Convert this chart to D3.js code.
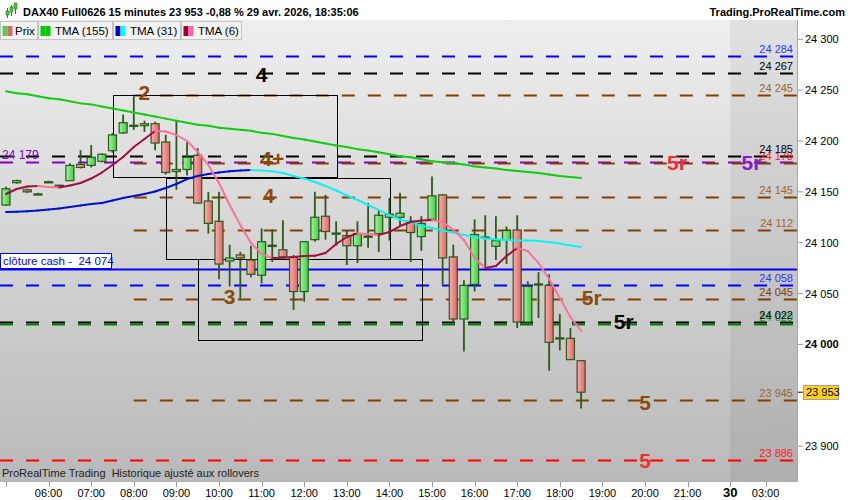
<!DOCTYPE html>
<html>
<head>
<meta charset="utf-8">
<script src="https://cdn.jsdelivr.net/npm/d3@7"></script>
<style>
  body { margin: 0; background: #fff; }
  svg { display: block; font-family: "Liberation Sans", Arial, sans-serif; }
</style>
</head>
<body>
<svg width="850" height="500"></svg>
<script>
// 15 minute bars, 29 avr. 2026
var times = ["05:00","05:15","05:30","05:45","06:00","06:15","06:30","06:45","07:00","07:15",
  "07:30","07:45","08:00","08:15","08:30","08:45","09:00","09:15","09:30","09:45",
  "10:00","10:15","10:30","10:45","11:00","11:15","11:30","11:45","12:00","12:15",
  "12:30","12:45","13:00","13:15","13:30","13:45","14:00","14:15","14:30","14:45",
  "15:00","15:15","15:30","15:45","16:00","16:15","16:30","16:45","17:00","17:15",
  "17:30","17:45","18:00","18:15","18:30"];
var open = [24137,24159,24152,24148,24160,24156.5,24161,24177,24176,24180,
  24190.5,24208,24215,24215,24217,24199,24170,24172,24186,24141,
  24121,24082,24088,24083,24068,24097,24093,24086,24052,24103,
  24126,24109,24107,24097,24106,24109,24125,24125,24121,24106,
  24123,24147,24086,24025,24059,24105,24096.5,24103,24112.5,24022,
  24059,24058,24006,24006,23984];
var high = [24155,24162,24153,24149,24161,24157,24178,24191,24196,24188,
  24208,24226,24244,24220,24219,24206,24220,24199,24193,24150,
  24150,24098,24091,24097,24114,24113,24122,24088,24101,24150,
  24147,24121,24112.5,24121,24139,24132,24144,24149,24126,24126,
  24165,24148,24098,24063,24123,24127,24126,24116,24127,24062,
  24071,24069,24030,24016,23984];
var low = [24136,24158,24149,24147,24159,24155,24161,24173,24174,24179,
  24188.5,24207,24211,24209,24191,24167,24152,24166,24138,24109,
  24064,24057,24045,24066,24060,24081,24085,24034,24042,24101,
  24103,24097,24078,24080,24095,24091,24102,24117,24081,24092,
  24121,24059,24019,23993,24052,24076,24083,24079,24016,24019,
  24026,23974,23994,23985,23937];
var close = [24153,24161,24150,24148,24160,24156,24176,24174,24184,24187,
  24206,24218,24215.5,24217,24198,24169,24172,24184,24139,24119,
  24079,24085,24085,24069,24101,24097.5,24086,24052,24101,24125,
  24111,24109.5,24097,24109,24106.5,24127,24128,24129,24110,24119,
  24146,24085,24025,24058,24108,24105.5,24102,24112,24022,24057,
  24059.5,24002,24006.5,23985,23953];

var tma155 = [24249,24247,24246,24244,24242,24241,24239,24237,24236,24234,
  24232,24230,24228,24226,24224,24222,24220,24218,24216,24215,
  24213,24212,24211,24210,24208,24207,24205,24203,24201.5,24199.5,
  24197.5,24195.5,24194,24192,24190.7,24189,24187,24185,24184,24182,
  24180,24179,24178,24177,24175,24174,24173,24171.5,24170.5,24169.5,
  24168.5,24167,24165.6,24164.6,24163.6];
var tma31 = [24130.2,24130.5,24130.9,24131.7,24132.6,24133.6,24135.1,24136.6,24138.1,24139,
  24141.5,24144,24145.9,24147.9,24150.3,24153.8,24157.7,24162.6,24165.6,24167.6,
  24169,24170.2,24171,24171.5,24171,24170.2,24168.5,24165.6,24163.1,24159.7,
  24155.8,24151.3,24146.4,24142,24137.1,24132.2,24127.2,24122.8,24119.9,24116.9,
  24114.5,24112,24110,24107.6,24105.6,24104.1,24103.1,24102.7,24102.2,24102.2,
  24101.7,24100.7,24099.2,24097.2,24095.8];
var tma6 = [24147.9,24152.8,24155.3,24155.8,24154.8,24154.3,24156.2,24158.7,24163.1,24169,
  24176.4,24184.3,24194.1,24202,24209.8,24209.3,24205.9,24200,24189.2,24176.4,
  24158.7,24137.1,24117.4,24099.7,24088.9,24085,24085.3,24085.9,24086.9,24087.2,
  24089.9,24098.7,24105.6,24109,24108.6,24107.6,24110.5,24116.4,24120.4,24121.8,
  24122.3,24120.4,24112.5,24102.7,24085,24075.1,24077.1,24086.9,24094.8,24091.8,
  24080,24064.3,24045.6,24026.9,24013.2];

// horizontal levels
var levelValues = [24284,24267,24245,24185,24179,24178,24145,24112,24074,24058,24045,24022,24020,23945,23886];
var levelStart = ["04:45","04:45","08:00","04:45","04:45","08:00","08:00","08:00","04:45","04:45","08:00","04:45","04:45","08:00","04:45"];
var levelKind = ["blue","black","brown","black","purple","brown","brown","brown","cash","blue","brown","black","green","brown","red"];

// boxes: start time, end time, top value, bottom value
var boxStart = ["07:30","08:45","09:30"];
var boxEnd = ["12:45","14:00","14:45"];
var boxTop = [24245,24164,24084];
var boxBottom = [24164,24084,24004];

// wave labels
var waveText = ["2","4","4+","4","3","5r","5r","5r","5r","5","5"];
var waveTime = ["08:15","11:00","11:15","11:10","10:15","20:45","22:30","18:45","19:30","20:00","20:00"];
var waveValue = [24248,24265,24183,24146,24047,24179,24179,24046,24023,23943,23886];
var waveKind = ["brown","black","brown","brown","brown","red","purple","brown","black","brown","red"];

// 23 950 sits under the last price tag
var yTicks = [23900,24000,24050,24100,24150,24200,24250,24300];
var xTickLabels = ["","06:00","07:00","08:00","09:00","10:00","11:00","12:00","13:00","14:00",
  "15:00","16:00","17:00","18:00","19:00","20:00","21:00","30","03:00"];
var xTickHours = [5,6,7,8,9,10,11,12,13,14,15,16,17,18,19,20,21,22,22.83];

var lastPrice = 23953;

var colors = {
  blue: "#0000ff", black: "#000000", brown: "#804000", purple: "#8000c8",
  cash: "#0000ff", green: "#008000", red: "#ff0000"
};
var labelColors = {
  blue: "#3333ff", black: "#000000", brown: "#996633", green: "#2a9a2a", red: "#ff2020"
};

var svg = d3.select("svg"),
  plot = { left: 0, right: 797, top: 20, bottom: 481 };

function hours(t) {
  var p = t.split(":");
  return +p[0] + p[1] / 60;
}
function fmt(v) {
  return d3.format(",")(v).replace(/,/g, " ");
}

var x = d3.scaleLinear().domain([5, 22]).range([6, 730.2]);
var y = d3.scaleLinear().domain([23900, 24300]).range([446.1, 39.3]);

var defs = svg.append("defs");
var bg = defs.append("linearGradient").attr("id", "bg").attr("x1", 0).attr("x2", 0).attr("y1", 0).attr("y2", 1);
bg.append("stop").attr("offset", 0).attr("stop-color", "#eeeeee");
bg.append("stop").attr("offset", 1).attr("stop-color", "#b9b9b9");
var gUp = defs.append("linearGradient").attr("id", "up");
gUp.append("stop").attr("offset", 0).attr("stop-color", "#a2f2a2");
gUp.append("stop").attr("offset", 1).attr("stop-color", "#3fcf3f");
var gDn = defs.append("linearGradient").attr("id", "dn");
gDn.append("stop").attr("offset", 0).attr("stop-color", "#f7b0b0");
gDn.append("stop").attr("offset", 1).attr("stop-color", "#e46464");
defs.append("clipPath").attr("id", "clip")
  .append("rect")
  .attr("x", plot.left).attr("y", plot.top)
  .attr("width", plot.right - plot.left).attr("height", plot.bottom - plot.top);

// background
svg.append("rect").attr("width", 850).attr("height", 500).attr("fill", "#fff");
svg.append("rect")
  .attr("x", plot.left).attr("y", plot.top)
  .attr("width", plot.right - plot.left).attr("height", plot.bottom - plot.top)
  .attr("fill", "url(#bg)");
svg.append("rect")
  .attr("x", x(22)).attr("y", plot.top)
  .attr("width", plot.right - x(22)).attr("height", plot.bottom - plot.top)
  .attr("fill", "#000").attr("opacity", 0.055);

var g = svg.append("g").attr("clip-path", "url(#clip)");

// levels
var levels = levelValues.map(function(v, i) {
  return { value: v, start: levelStart[i], kind: levelKind[i] };
});
g.selectAll(".level")
  .data(levels)
  .enter()
  .append("line")
  .attr("class", "level")
  .attr("x1", function(d) { return Math.max(plot.left, x(hours(d.start))); })
  .attr("x2", plot.right)
  .attr("y1", function(d) { return Math.round(y(d.value)) + 0.5; })
  .attr("y2", function(d) { return Math.round(y(d.value)) + 0.5; })
  .attr("stroke", function(d) { return colors[d.kind]; })
  .attr("stroke-width", 2)
  .attr("stroke-dasharray", function(d) { return d.kind == "cash" ? null : "13,13"; });

// boxes
g.selectAll(".box")
  .data(boxStart)
  .enter()
  .append("rect")
  .attr("class", "box")
  .attr("x", function(d) { return Math.round(x(hours(d))) + 0.5; })
  .attr("y", function(d, i) { return Math.round(y(boxTop[i])) + 0.5; })
  .attr("width", function(d, i) { return Math.round(x(hours(boxEnd[i])) - x(hours(d))); })
  .attr("height", function(d, i) { return Math.round(y(boxBottom[i]) - y(boxTop[i])); })
  .attr("fill", "none")
  .attr("stroke", "#000")
  .attr("stroke-width", 1);

// candles
var bars = times.map(function(t, i) {
  return { t: hours(t), o: open[i], h: high[i], l: low[i], c: close[i] };
});
var candle = g.selectAll(".candle")
  .data(bars)
  .enter()
  .append("g")
  .attr("class", "candle");
candle.append("line")
  .attr("x1", function(d) { return x(d.t); })
  .attr("x2", function(d) { return x(d.t); })
  .attr("y1", function(d) { return y(d.h); })
  .attr("y2", function(d) { return y(d.l); })
  .attr("stroke", "#2d5a1a")
  .attr("stroke-width", 1.8);
candle.append("rect")
  .attr("x", function(d) { return x(d.t) - 4; })
  .attr("y", function(d) { return Math.min(y(d.o), y(d.c)); })
  .attr("width", 8)
  .attr("height", function(d) { return Math.max(1.2, Math.abs(y(d.o) - y(d.c))); })
  .attr("fill", function(d) { return d.c >= d.o ? "url(#up)" : "url(#dn)"; })
  .attr("stroke", "#2d5a1a")
  .attr("stroke-width", 1.2);

// moving averages, two colours by slope
function maSegments(values, upColor, downColor) {
  var segs = [];
  for (var i = 1; i < values.length; i++) {
    segs.push({
      x1: x(hours(times[i - 1])), y1: y(values[i - 1]),
      x2: x(hours(times[i])), y2: y(values[i]),
      color: values[i] > values[i - 1] ? upColor : downColor
    });
  }
  return segs;
}
function drawMa(values, upColor, downColor, cls) {
  g.selectAll("." + cls)
    .data(maSegments(values, upColor, downColor))
    .enter()
    .append("line")
    .attr("class", cls)
    .attr("x1", function(d) { return d.x1; })
    .attr("y1", function(d) { return d.y1; })
    .attr("x2", function(d) { return d.x2; })
    .attr("y2", function(d) { return d.y2; })
    .attr("stroke", function(d) { return d.color; })
    .attr("stroke-width", 2)
    .attr("stroke-linecap", "round");
}
drawMa(tma155, "#11cc11", "#11cc11", "ma155");
drawMa(tma31, "#0010cc", "#10f0f0", "ma31");
drawMa(tma6, "#a0103c", "#ff7099", "ma6");

// wave labels
g.selectAll(".wave")
  .data(waveText)
  .enter()
  .append("text")
  .attr("class", "wave")
  .attr("x", function(d, i) { return x(hours(waveTime[i])); })
  .attr("y", function(d, i) { return y(waveValue[i]); })
  .attr("dy", "0.36em")
  .attr("text-anchor", "middle")
  .attr("font-size", 21)
  .attr("font-weight", "bold")
  .attr("fill", function(d, i) {
    var k = waveKind[i];
    return k == "brown" ? "#8a4a0a" : k == "red" ? "#f03030" : k == "purple" ? "#8a1ad0" : "#000";
  })
  .text(function(d) { return d; });

// level labels at right
var labeled = levels.filter(function(d) { return labelColors[d.kind]; }).reverse();
g.selectAll(".lvl-label")
  .data(labeled)
  .enter()
  .append("text")
  .attr("class", "lvl-label")
  .attr("x", 793)
  .attr("y", function(d) { return y(d.value) - 3; })
  .attr("text-anchor", "end")
  .attr("font-size", 11)
  .attr("fill", function(d) {
    if (d.value == 24178) return "#ff2020";
    if (d.value == 24045) return "#804000";
    return labelColors[d.kind];
  })
  .text(function(d) { return fmt(d.value); });

// purple level label at left
var purple = levels.filter(function(d) { return d.kind == "purple"; })[0];
svg.append("text")
  .attr("x", 2).attr("y", y(purple.value) - 3)
  .attr("font-size", 12).attr("fill", "#8000c8")
  .text(fmt(purple.value));

// cash close box
var cash = levels.filter(function(d) { return d.kind == "cash"; })[0];
svg.append("rect")
  .attr("x", 0.5).attr("y", Math.round(y(cash.value)) - 15.5)
  .attr("width", 111).attr("height", 15)
  .attr("fill", "#fff").attr("stroke", "#0000ff");
svg.append("text")
  .attr("x", 3).attr("y", Math.round(y(cash.value)) - 4)
  .attr("font-size", 11.5).attr("fill", "#0000ff")
  .text("clôture cash -\u00a0 " + fmt(cash.value));

// frame lines
svg.append("line").attr("x1", plot.right + 0.5).attr("x2", plot.right + 0.5)
  .attr("y1", plot.top).attr("y2", plot.bottom).attr("stroke", "#a8a8a8");
svg.append("line").attr("x1", 0).attr("x2", plot.right + 1)
  .attr("y1", plot.bottom + 0.5).attr("y2", plot.bottom + 0.5).attr("stroke", "#b0b0b0");

// y axis
var yAxis = svg.append("g").attr("class", "y-axis");
yAxis.selectAll("line")
  .data(yTicks)
  .enter()
  .append("line")
  .attr("x1", plot.right + 1).attr("x2", plot.right + 6)
  .attr("y1", function(d) { return y(d); })
  .attr("y2", function(d) { return y(d); })
  .attr("stroke", "#999");
yAxis.selectAll("text")
  .data(yTicks)
  .enter()
  .append("text")
  .attr("x", plot.right + 8)
  .attr("y", function(d) { return y(d) + 4; })
  .attr("font-size", 11)
  .attr("font-weight", function(d) { return d == 24000 ? "bold" : "normal"; })
  .attr("fill", "#000")
  .text(fmt);

// last price tag
svg.append("line")
  .attr("x1", plot.right + 1).attr("x2", plot.right + 6)
  .attr("y1", y(lastPrice)).attr("y2", y(lastPrice))
  .attr("stroke", "#000");
svg.append("rect")
  .attr("x", 803.5).attr("y", Math.round(y(lastPrice)) - 6.5)
  .attr("width", 35).attr("height", 14)
  .attr("fill", "#ffd21a").attr("stroke", "#a0a0a0");
svg.append("text")
  .attr("x", 806).attr("y", y(lastPrice) + 4)
  .attr("font-size", 11).attr("fill", "#000")
  .text(fmt(lastPrice));

// x axis
var xAxis = svg.append("g").attr("class", "x-axis");
xAxis.selectAll("line")
  .data(xTickHours)
  .enter()
  .append("line")
  .attr("x1", function(d) { return Math.round(x(d)) + 0.5; })
  .attr("x2", function(d) { return Math.round(x(d)) + 0.5; })
  .attr("y1", plot.bottom + 1).attr("y2", plot.bottom + 6)
  .attr("stroke", "#999");
xAxis.selectAll("text")
  .data(xTickLabels)
  .enter()
  .append("text")
  .attr("x", function(d, i) { return x(xTickHours[i]); })
  .attr("y", 497)
  .attr("text-anchor", "middle")
  .attr("font-size", function(d) { return d == "30" ? 13 : 11; })
  .attr("font-weight", function(d) { return d == "30" ? "bold" : "normal"; })
  .attr("fill", "#000")
  .text(function(d) { return d; });

svg.append("text")
  .attr("x", 2).attr("y", 477)
  .attr("font-size", 11).attr("fill", "#222")
  .text("ProRealTime Trading\u00a0 Historique ajusté aux rollovers");

// title bar
svg.append("rect").attr("x", 0).attr("y", 0).attr("width", 850).attr("height", 20).attr("fill", "#fff");
var icon = svg.append("g").attr("transform", "translate(4,3)");
[[2, 8, 12, 5, 10], [6, 4, 10, 2, 7], [10, 0, 8, 0, 4]].forEach(function(c) {
  icon.append("line").attr("x1", c[0] + 1.5).attr("x2", c[0] + 1.5)
    .attr("y1", c[3] + 0).attr("y2", c[2] + 3).attr("stroke", "#2d7a1a").attr("stroke-width", 1);
  icon.append("rect").attr("x", c[0]).attr("y", c[1]).attr("width", 3).attr("height", c[4] - c[1] + 2)
    .attr("fill", "#44cc44").attr("stroke", "#2d7a1a").attr("stroke-width", 0.6);
});
svg.append("text")
  .attr("x", 23).attr("y", 15.5)
  .attr("font-size", 11).attr("font-weight", "bold").attr("fill", "#000")
  .text("DAX40 Full0626 15 minutes 23 953 -0,88 % 29 avr. 2026, 18:35:06");
svg.append("text")
  .attr("x", 845).attr("y", 15.5)
  .attr("text-anchor", "end")
  .attr("font-size", 11).attr("font-weight", "bold").attr("fill", "#000")
  .text("Trading.ProRealTime.com");

// legend
var legendNames = ["Prix", "TMA (155)", "TMA (31)", "TMA (6)"];
var legendLeft = [0, 38, 113, 181];
var legendRight = [37, 112, 180, 241];
var legendIcon = [["#55cc55", "#e06666"], ["#00cc00", "#00cc00"], ["#0000cc", "#00ffff"], ["#990033", "#ff6699"]];
var legend = svg.selectAll(".legend")
  .data(legendNames)
  .enter()
  .append("g")
  .attr("class", "legend")
  .attr("transform", function(d, i) { return "translate(" + legendLeft[i] + ",21)"; });
legend.append("rect")
  .attr("x", 0.5).attr("y", 0.5)
  .attr("width", function(d, i) { return legendRight[i] - legendLeft[i]; })
  .attr("height", 18)
  .attr("fill", "#f2f2f2").attr("stroke", "#c4c4c4");
legend.append("rect")
  .attr("x", 2.5).attr("y", 5).attr("width", 5).attr("height", 10)
  .attr("fill", function(d, i) { return legendIcon[i][0]; });
legend.append("rect")
  .attr("x", 7.5).attr("y", 5).attr("width", 5).attr("height", 10)
  .attr("fill", function(d, i) { return legendIcon[i][1]; });
legend.append("text")
  .attr("x", function(d, i) { return i == 0 ? 15 : 17; })
  .attr("y", 13.5)
  .attr("font-size", 11.5).attr("fill", "#000")
  .text(function(d) { return d; });
</script>
</body>
</html>
